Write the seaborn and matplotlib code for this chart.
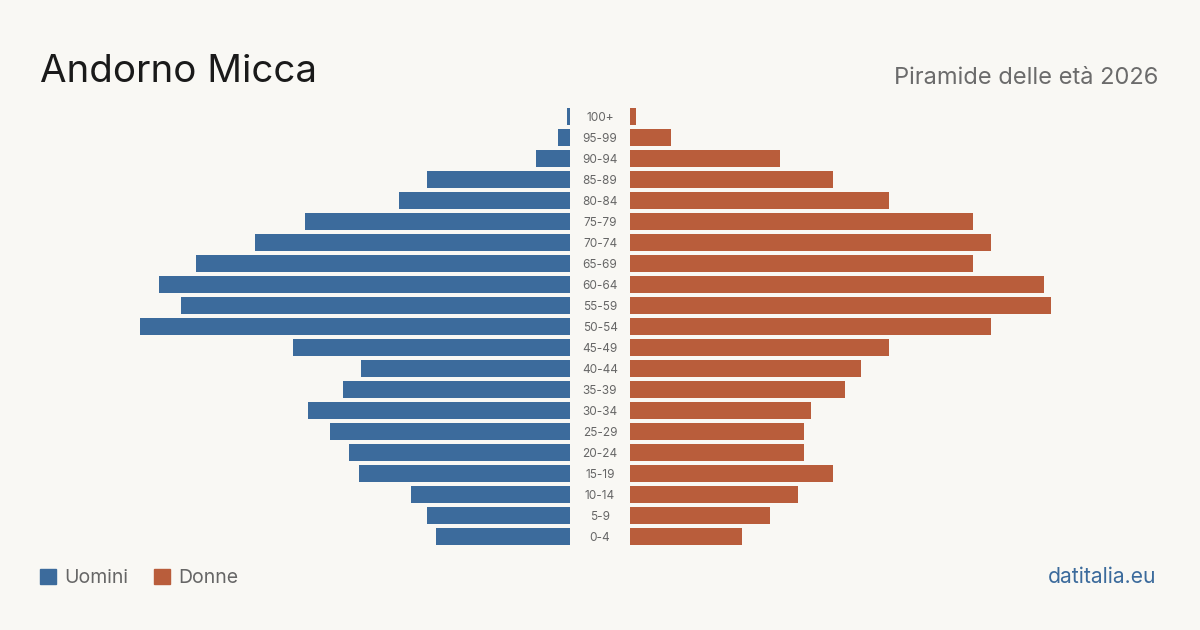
import pandas as pd
import numpy as np
import matplotlib.pyplot as plt
import seaborn as sns
from matplotlib.patches import Patch

# Dati: piramide delle eta, Andorno Micca 2026
age_groups = ['100+', '95-99', '90-94', '85-89', '80-84', '75-79', '70-74', '65-69',
              '60-64', '55-59', '50-54', '45-49', '40-44', '35-39', '30-34', '25-29',
              '20-24', '15-19', '10-14', '5-9', '0-4']
men = [0.4, 1.7, 4.8, 20.3, 24.3, 37.6, 44.7, 53, 58.3, 55.2, 61, 39.3, 29.6, 32.2, 37.2, 34, 31.3, 30, 22.6, 20.3, 19]
women = [0.9, 5.8, 21.3, 28.8, 36.7, 48.7, 51.2, 48.7, 58.7, 59.7, 51.2, 36.7, 32.8, 30.5, 25.7, 24.7, 24.7, 28.8, 23.8, 19.9, 15.9]

BG = '#f9f8f4'
BLUE = '#3c6b9c'
ORANGE = '#b95d3b'

sns.set_theme(style='white')
plt.rcParams['font.family'] = ['Inter', 'DejaVu Sans']

df = pd.DataFrame({'age': age_groups, 'men': men, 'women': women})
xmax = max(max(men), max(women))

fig = plt.figure(figsize=(12, 6.3), dpi=100, facecolor=BG)
# axes in pixel -> figure coords
bottom, height = 1 - 547 / 630, 441 / 630
ax_l = fig.add_axes([140 / 1200, bottom, 430 / 1200, height])
ax_r = fig.add_axes([630 / 1200, bottom, 430 / 1200, height])

sns.barplot(data=df, x='men', y='age', color=BLUE, width=0.8, ax=ax_l, saturation=1, linewidth=0)
sns.barplot(data=df, x='women', y='age', color=ORANGE, width=0.8, ax=ax_r, saturation=1, linewidth=0)

ax_l.set_xlim(xmax, 0)
ax_r.set_xlim(0, xmax)
for ax in (ax_l, ax_r):
    ax.set_facecolor(BG)
    ax.set_ylim(len(age_groups) - 0.5, -0.5)
    ax.set_xlabel('')
    ax.set_ylabel('')
    ax.set_xticks([])
    sns.despine(ax=ax, left=True, bottom=True)

ax_l.set_yticks([])
ax_r.tick_params(axis='y', length=0, pad=21.6, labelsize=8.5, labelcolor='#666666')
for lab in ax_r.get_yticklabels():
    lab.set_ha('center')

fig.text(40 / 1200, 1 - 82 / 630, 'Andorno Micca', fontsize=27.7, color='#1a1a1a', ha='left', va='baseline')
fig.text(1158 / 1200, 1 - 84 / 630, 'Piramide delle età 2026', fontsize=17, color='#6b6b6b', ha='right', va='baseline')
fig.text(1156 / 1200, 1 - 577 / 630, 'datitalia.eu', fontsize=15.2, color=BLUE, ha='right', va='center')

handles = [Patch(color=BLUE, label='Uomini'), Patch(color=ORANGE, label='Donne')]
fig.legend(handles=handles, loc='center left', bbox_to_anchor=(40 / 1200, 1 - 578 / 630), ncol=2,
           frameon=False, fontsize=14, labelcolor='#666666', handlelength=0.82, handleheight=0.82,
           handletextpad=0.42, columnspacing=1.35, borderpad=0, borderaxespad=0)

fig.savefig('out.png', dpi=100, facecolor=BG)
